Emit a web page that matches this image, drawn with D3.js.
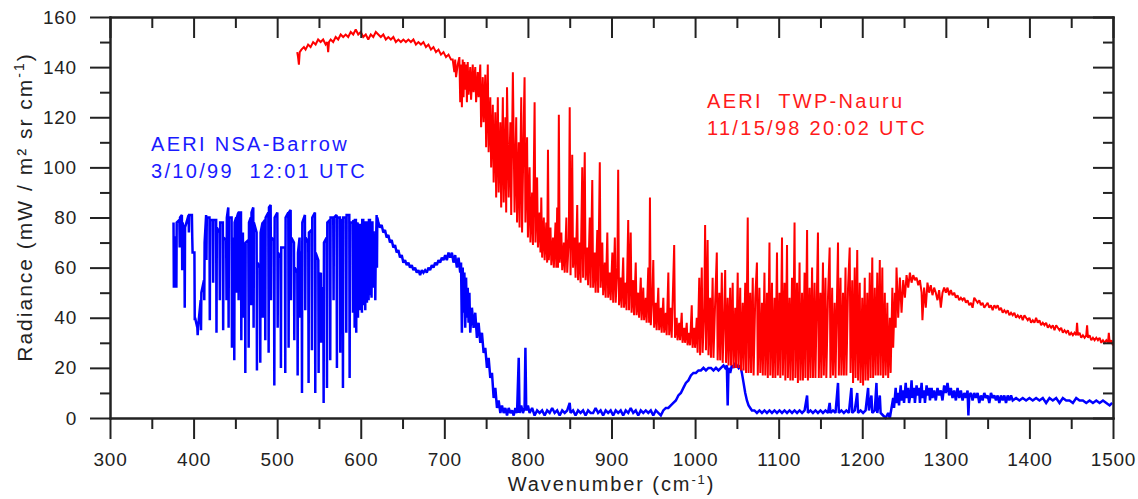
<!DOCTYPE html>
<html>
<head>
<meta charset="utf-8">
<script src="https://cdn.jsdelivr.net/npm/d3@7"></script>
<style>
  html, body { margin: 0; padding: 0; background: #fff; }
  svg { display: block; font-family: "Liberation Sans", Arial, sans-serif; }
  .tick text { font-size: 19px; fill: #222; letter-spacing: 0.8px; }
</style>
</head>
<body>
<svg id="chart" width="1138" height="499"></svg>
<script>
// tick values
var xMajor = [300, 400, 500, 600, 700, 800, 900, 1000, 1100, 1200, 1300, 1400, 1500];
var xMinor = [350, 450, 550, 650, 750, 850, 950, 1050, 1150, 1250, 1350, 1450];
var yMajor = [0, 20, 40, 60, 80, 100, 120, 140, 160];
var yMinor = [10, 30, 50, 70, 90, 110, 130, 150];

var barrowLabel = ["AERI NSA-Barrow", "3/10/99  12:01 UTC"];
var nauruLabel = ["AERI  TWP-Nauru", "11/15/98 20:02 UTC"];

// Nauru spectrum, [wavenumber, radiance]
var nauruPts = [
  [524,146],[525,144],[526,141],[527,146],[529,147],[532,148],[534,147],[537,149],[540,148],[543,150],
  [546,149],[549,151],[552,150],[555,151],[558,149],[560,150],[561,146],[562,150],[564,151],[567,150],
  [570,152],[573,151],[576,153],[579,152],[582,153],[585,152],[588,154],[591,153],[594,155],[597,153],
  [600,154],[603,152],[606,153],[609,151],[612,153],[615,152],[618,154],[621,153],[624,152],[627,153],
  [630,151],[633,152],[636,151],[639,152],[642,150],[645,151],[648,150],[651,151],[654,150],[657,151],
  [660,150],[663,151],[666,149],[669,150],[672,149],[675,150],[678,148],[681,149],[684,147],[687,148],
  [690,146],[693,147],[696,145],[699,146],[702,144],[705,145],[708,143],
  [710,143],[712,138],[713,143],[714,136],[716,141],[718,144],[719,126],[720,141],[721,124],[722,143],
  [723,128],[724,142],[725,131],[726,141],[727,126],[728,142],[729,129],[731,140],[732,127],[734,141],
  [735,130],[737,140],[738,126],[740,138],[741,128],[743,141],[744,116],[746,136],[747,118],[749,137],
  [750,108],[752,141],[753,106],[755,128],[756,100],[758,125],[759,94],[761,122],[762,88],[764,128],
  [765,90],[767,118],[768,84],[770,128],[771,86],[773,120],[774,82],[775,132],[777,88],[779,118],
  [780,81],[782,138],[784,82],[786,120],[787,78],[789,110],[790,76],[792,128],[793,74],[795,118],
  [796,136],[797,78],[799,112],[800,72],[802,100],[803,70],[805,90],[806,69],[808,126],[809,70],
  [811,96],[812,68],[814,82],[815,66],
  [816,88],[817,64],[819,80],[820,63],[822,78],[823,62],[824,107],[825,63],[827,76],[828,61],
  [830,72],[831,60],[833,78],[834,60],[835,84],[836,60],[837,121],[838,62],[840,74],[841,59],
  [843,70],[844,58],[846,80],[847,58],[849,72],[850,124],[851,57],[853,105],[854,60],[856,72],
  [857,56],[859,85],[860,55],[862,70],[863,54],[865,100],[866,56],[868,106],[869,55],[871,68],
  [872,53],[874,80],[875,52],[877,95],[878,52],[880,66],[881,50],[883,75],[884,50],[886,102],
  [887,52],[889,70],[890,49],[892,62],[893,48],[895,74],[896,48],[898,58],[899,47],[901,66],
  [902,46],[904,72],[905,46],[907,60],[908,99],[909,45],[911,56],[912,44],[914,64],[915,44],
  [917,54],[918,43],[920,79],[921,43],[923,74],[924,42],[926,55],[927,41],[929,62],[930,41],
  [932,50],[933,40],[935,56],[936,39],[938,52],[939,39],[941,48],[942,38],[944,60],[945,38],
  [946,88],[947,37],[949,50],[950,63],[951,36],[953,46],[954,35],[956,52],[957,35],[959,44],
  [960,34],[962,48],[963,34],[965,42],[966,33],[968,58],[969,33],[971,44],[972,32],[975,69],
  [976,32],[978,40],[979,31],[981,38],[982,31],[984,42],[985,30],[987,36],[988,30],[990,38],
  [991,29],[993,34],[994,29],[996,45],[997,28],[999,36],[1000,28],
  [1002,40],[1003,26],[1005,56],[1006,25],[1008,60],[1009,26],[1011,44],[1012,77],[1013,27],[1015,71],
  [1016,25],[1018,48],[1019,24],[1021,56],[1022,24],[1024,46],[1026,66],[1027,23],[1029,50],[1030,23],
  [1032,58],[1033,22],[1035,44],[1036,59],[1037,22],[1039,48],[1040,21],[1042,52],[1043,21],[1045,54],
  [1046,20],[1048,44],[1049,20],[1051,58],[1052,20],[1054,52],[1055,19],[1057,46],[1058,19],[1060,54],
  [1061,18],[1063,80],[1064,18],[1066,50],[1067,18],[1069,56],[1070,17],[1072,48],[1074,62],[1075,17],
  [1077,52],[1078,18],[1080,46],[1081,17],[1083,58],[1084,17],[1086,50],[1087,16],[1089,70],[1090,17],
  [1092,54],[1093,16],[1095,48],[1096,16],[1098,66],[1099,17],[1101,50],[1102,16],[1104,72],[1105,17],
  [1107,54],[1108,15],[1110,69],[1111,16],[1113,48],[1114,15],[1116,56],[1117,15],[1119,78],[1120,16],
  [1122,54],[1123,14],[1125,62],[1126,15],[1128,50],[1129,15],[1131,58],[1132,16],[1134,75],[1135,15],
  [1137,52],[1138,16],[1140,60],[1141,16],[1143,54],[1144,16],[1147,74],[1148,16],[1150,50],[1151,16],
  [1153,62],[1154,17],[1156,56],[1157,16],[1159,48],[1161,68],[1162,16],[1164,52],[1165,17],[1167,46],
  [1168,16],[1171,70],[1172,17],[1174,56],[1175,17],[1177,50],[1178,17],[1180,60],[1181,17],[1183,52],
  [1185,68],[1186,18],[1188,55],[1189,14],[1191,60],[1192,16],[1194,67],[1195,15],[1197,54],[1198,14],
  [1200,48],[1201,13],[1203,56],[1204,15],[1206,50],[1207,15],[1209,58],[1210,16],[1212,64],[1213,16],
  [1215,52],[1216,17],[1218,58],[1219,17],[1221,63],[1222,17],[1224,60],[1225,16],[1227,50],[1228,17],
  [1230,46],[1231,16],[1233,40],[1234,18],[1236,52],[1237,28],[1239,50],[1240,36],
  [1241,60],[1243,40],[1245,56],[1247,42],[1249,55],[1251,48],[1253,57],[1255,52],[1257,58],[1259,54],
  [1261,57],[1263,55],[1265,56],[1267,53],[1269,55],[1271,50],[1272,39],[1274,52],[1276,44],[1278,54],
  [1280,50],[1282,53],[1284,49],[1286,52],[1288,50],[1290,47],[1292,51],[1294,44],[1296,50],[1298,52],
  [1300,50],[1302,52],[1304,49],[1306,51],[1308,49],[1310,50],[1312,48],[1314,49],[1316,47],[1318,48],
  [1320,47],[1322,48],[1324,46],[1326,47],[1328,45],[1330,46],[1332,44],[1334,48],[1336,47],[1338,46],
  [1340,47],[1342,45],[1344,46],[1346,44],[1348,45],[1350,46],[1352,44],[1354,45],[1356,43],[1358,45],
  [1360,44],[1362,45],[1364,43],[1366,44],[1368,42],[1370,43],[1372,42],[1374,43],[1376,41],[1378,42],
  [1380,41],[1382,42],[1384,40],[1386,41],[1388,40],[1390,41],[1392,39],[1394,41],[1396,40],[1398,39],
  [1400,40],[1402,38],[1404,39],[1406,38],[1408,40],[1410,38],[1412,39],[1414,37],[1416,38],[1418,37],
  [1420,38],[1422,36],[1424,37],[1426,36],[1428,37],[1430,35],[1432,37],[1434,36],[1436,35],[1438,36],
  [1440,34],[1442,35],[1444,34],[1446,35],[1448,33],[1450,34],[1452,33],[1454,34],[1456,33],[1457,38],
  [1458,33],[1460,34],[1462,32],[1464,33],[1466,32],[1468,33],[1469,37],[1470,32],[1472,33],[1474,31],
  [1476,32],[1478,31],[1480,32],[1482,31],[1484,32],[1486,30],[1488,31],[1490,30],[1492,31],[1494,30],
  [1495,34],[1496,30],[1498,31],[1500,29]
];

// Barrow spectrum, [wavenumber, radiance]
var barrowPts = [
  [376,78],[376.4,52],[376.8,72],[379,72],[379.4,52],[379.8,78],[383,79],[383.4,68],[383.8,80],
  [386,81],[386.4,59],[386.8,78],[389,74],[389.4,44],[389.8,76],[394,81],[394.4,74],[394.8,81],
  [398,81],[398.4,72],[398.8,66],[401,66],[401.4,39],[401.8,40],[404.5,36],[404.9,33],[405.3,36],
  [408.5,47],[408.9,35],[409.3,50],[412.4,55],[412.8,47],[413.2,70],[415,81],[415.4,63],[415.8,80],
  [419,80],[419.4,39],[419.8,79],[423,79],[423.4,54],[423.8,79],[427,79],[427.4,34],[427.8,76],
  [431,74],[431.4,47],[431.8,78],[435,78],[435.4,35],[435.8,72],[439,71],[439.4,47],[439.8,80],
  [441.5,84],[441.9,36],[442.3,80],[445.5,80],[445.9,28],[446.3,72],[448.3,67],[448.7,23],[449.1,78],
  [451,80],[451.4,50],[451.8,80],[453.5,82],[453.9,47],[454.3,82],[456.7,82],[457.1,31],[457.5,72],
  [459,74],[459.4,40],[459.8,70],[461.5,66],[461.9,18],[462.3,70],[465.5,71],[465.9,28],[466.3,78],
  [468.5,80],[468.9,45],[469.3,82],[471.4,84],[471.8,36],[472.2,78],[475.4,74],[475.8,19],[476.2,62],
  [479.4,60],[479.8,22],[480.2,74],[482.5,78],[482.9,40],[483.3,78],[485.4,79],[485.8,31],[486.2,80],
  [489.4,82],[489.8,26],[490.2,84],[492.2,85],[492.6,47],[493,72],[496.2,71],[496.6,13],[497,80],
  [500.2,82],[500.6,36],[501,66],[504.1,64],[504.5,20],[504.9,68],[509.3,68],[509.7,18],[510.1,80],
  [513.3,82],[513.7,28],[514.1,82],[516.1,83],[516.5,47],[516.9,72],[520.1,70],[520.5,31],[520.9,60],
  [524.1,58],[524.5,17],[524.9,66],[526.8,72],[527.2,40],[527.6,66],[529.3,66],[529.7,10],[530.1,78],
  [533.2,81],[533.6,43],[534,72],[537.2,70],[537.6,14],[538,74],[541.2,75],[541.6,27],[542,80],
  [545.2,82],[545.6,10],[546,66],[549.2,63],[549.6,18],[550,56],[552.3,58],[552.7,30],[553.1,52],
  [555.2,51],[555.6,6],[556,70],[559.2,72],[559.6,12],[560,78],[563.1,79],[563.5,23],[563.9,80],
  [567.1,80],[567.5,47],[567.9,80],[571.1,81],[571.5,20],[571.9,80],[575.1,80],[575.5,26],[575.9,79],
  [578.3,79],[578.7,12],[579.1,80],[582.3,80],[582.7,34],[583.1,81],[586.3,81],[586.7,16],[587.1,78],
  [590.3,78],[590.7,42],[591.1,79],[592.3,78],[592.7,36],[593.1,79],[594.2,79],[594.6,34],[595,77],
  [596.3,78],[596.7,40],[597.1,76],[598.2,76],[598.6,43],[599,77],[601,77],[601.4,42],[601.8,79],
  [603,79],[603.4,45],[603.8,75],[605,75],[605.4,43],[605.8,78],[607,78],[607.4,46],[607.8,77],
  [609,77],[609.4,47],[609.8,79],[611,79],[611.4,49],[611.8,77],[612.5,77],[612.9,48],[613.3,78],
  [614,78],[614.4,52],[614.8,74],[615.5,74],[615.9,55],[616.3,70],[617,70],[617.4,47],[617.8,62],
  [619,81],[619.4,60],[619.8,80],[621,78],
  [623,76],[625,77],[627,74],[629,75],[631,72],[633,73],[635,70],[637,71],[639,68],[641,69],
  [643,66],[645,67],[647,64],[649,65],[651,62],[653,63],[655,61],[657,62],[659,60],[661,61],
  [663,59],[665,60],[667,58],[669,59],[671,57],[673,59],[675,58],[677,59],[679,58],[681,60],
  [683,59],[685,61],[687,60],[689,62],[691,61],[693,63],[695,62],[697,64],[699,63],[701,65],
  [703,63],[705,66],[707,64],[709,66],[711,62],[713,65],[715,60],[717,64],[719,58],[720,62],
  [721,34],[722,60],[723,42],[724,58],[725,36],[726,56],[727,40],[728,52],[729,38],[730,50],
  [731,34],[733,44],[735,36],[737,42],[739,32],[741,38],[743,30],[745,34],[747,26],[749,28],
  [751,20],[753,24],[755,16],[757,18],[759,8],[761,12],[763,4],[765,7],[767,2],[769,5],
  [771,2],[773,4],[775,1],[777,4],[779,2],[781,3],[783,1],[785,4],[787,2],[789,24],
  [790,2],[792,5],[794,2],[796,4],[797,28],[798,3],[800,5],[802,2],[805,4],[808,1],
  [811,3],[814,2],[817,3],[820,1],[823,3],[826,2],[829,4],[832,2],[835,3],[838,1],
  [841,3],[844,2],[847,3],[850,6],[851,2],[854,3],[857,1],[860,3],[863,2],[866,3],
  [869,1],[872,3],[875,2],[878,2],[881,4],[884,2],[887,3],[890,1],[893,3],[896,2],
  [899,3],[902,1],[905,3],[908,2],[911,3],[914,1],[917,3],[920,2],[923,4],[926,2],
  [929,3],[932,1],[935,3],[938,2],[941,3],[944,2],[947,3],[950,1],[953,3],[956,2],
  [959,1],[962,3],[965,4],[968,4],[971,5],[974,6],[977,7],[980,9],[983,10],[986,12],
  [989,14],[992,15],[995,17],[998,18],[1001,18],[1004,19],[1007,19],[1010,20],[1013,19],[1016,20],
  [1019,20],[1022,19],[1025,20],[1028,19],[1031,20],[1034,21],[1036,20],[1038,21],[1039,5],[1040,20],
  [1042,18],[1044,21],[1046,20],[1048,22],[1050,21],[1052,20],[1054,21],[1056,18],[1058,14],[1060,10],
  [1062,7],[1064,5],[1066,4],[1068,3],[1071,3],[1074,2],[1077,3],[1080,2],[1083,3],[1086,2],
  [1089,3],[1092,2],[1095,3],[1098,2],[1101,3],[1104,2],[1107,3],[1110,2],[1113,3],[1116,2],
  [1119,3],[1122,2],[1125,3],[1128,2],[1131,3],[1134,9],[1135,2],[1138,3],[1141,2],[1144,3],
  [1147,2],[1150,3],[1153,2],[1156,3],[1159,2],[1161,6],[1162,2],[1165,3],[1168,2],[1171,14],
  [1172,2],[1175,3],[1178,2],[1181,3],[1184,2],[1187,12],[1188,2],[1191,3],[1194,10],[1195,2],
  [1198,3],[1201,2],[1204,3],[1207,12],[1208,3],[1211,9],[1212,2],[1215,3],[1217,14],[1218,2],
  [1221,9],[1222,2],[1225,1],[1228,0],[1231,2],[1233,0],[1235,4],[1237,8],[1238,4],[1240,12],
  [1241,6],[1243,10],[1244,5],[1246,13],[1247,7],[1249,11],[1250,6],[1252,14],[1253,8],[1255,12],
  [1256,6],[1258,10],[1259,15],[1260,8],[1262,12],[1263,6],[1265,13],[1266,9],[1268,12],[1269,6],
  [1271,14],[1272,8],[1274,11],[1275,6],[1277,13],[1278,9],[1280,12],[1281,7],[1283,12],[1284,8],
  [1286,11],[1288,7],[1290,12],[1292,9],[1294,11],[1296,7],[1298,13],[1300,10],[1302,14],[1304,9],
  [1306,12],[1308,8],[1310,11],[1312,7],[1314,12],[1316,8],[1318,11],[1320,7],[1322,10],[1324,8],
  [1326,11],[1327,1],[1328,9],[1330,10],[1332,7],[1334,10],[1336,8],[1338,10],[1340,6],[1342,9],
  [1344,7],[1346,10],[1348,8],[1350,9],[1352,6],[1354,10],[1356,8],[1358,9],[1360,7],[1362,9],
  [1364,6],[1366,9],[1368,7],[1370,9],[1372,6],[1374,9],[1376,7],[1378,9],[1380,7],[1384,8],
  [1388,7],[1392,8],[1396,7],[1400,8],[1404,7],[1408,8],[1412,7],[1416,8],[1420,6],[1424,8],
  [1428,7],[1432,8],[1436,6],[1440,8],[1444,7],[1448,7],[1452,6],[1456,8],[1460,7],[1464,7],
  [1468,6],[1472,7],[1476,6],[1480,7],[1484,6],[1488,7],[1492,6],[1496,5],[1499,6]
];

var svg = d3.select('#chart');
var plotL = 110, plotR = 1113, plotT = 17, plotB = 418;

var x = d3.scaleLinear().domain([300, 1500]).range([plotL, plotR]);
var y = d3.scaleLinear().domain([0, 160]).range([plotB, plotT]);

var line = d3.line()
  .x(function(d) { return x(d[0]); })
  .y(function(d) { return y(d[1]); });

svg.append('path')
  .datum(barrowPts)
  .attr('d', line)
  .attr('fill', 'none')
  .attr('stroke', '#0000ff')
  .attr('stroke-width', 2.5)
  .attr('stroke-miterlimit', 2);

svg.append('path')
  .datum(nauruPts)
  .attr('d', line)
  .attr('fill', 'none')
  .attr('stroke', '#ff0000')
  .attr('stroke-width', 2)
  .attr('stroke-miterlimit', 2);

// axes: bottom/left ticks outward, top/right inward
function styleAxis(g) {
  g.selectAll('path, line').attr('stroke', '#222').attr('stroke-width', 2);
  g.select('.domain').attr('stroke-linecap', 'square');
}

svg.append('g')
  .attr('transform', 'translate(0,' + plotB + ')')
  .call(d3.axisBottom(x).tickValues(xMajor).tickSize(21).tickSizeOuter(0).tickPadding(14)
    .tickFormat(d3.format('d')))
  .call(styleAxis);
svg.append('g')
  .attr('transform', 'translate(0,' + plotB + ')')
  .call(d3.axisBottom(x).tickValues(xMinor).tickSize(11).tickSizeOuter(0).tickFormat(''))
  .call(styleAxis);

svg.append('g')
  .attr('transform', 'translate(0,' + plotT + ')')
  .call(d3.axisBottom(x).tickValues(xMajor).tickSize(21).tickSizeOuter(0).tickFormat(''))
  .call(styleAxis);
svg.append('g')
  .attr('transform', 'translate(0,' + plotT + ')')
  .call(d3.axisBottom(x).tickValues(xMinor).tickSize(11).tickSizeOuter(0).tickFormat(''))
  .call(styleAxis);

svg.append('g')
  .attr('transform', 'translate(' + plotL + ',0)')
  .call(d3.axisLeft(y).tickValues(yMajor).tickSize(20).tickSizeOuter(0).tickPadding(13))
  .call(styleAxis);
svg.append('g')
  .attr('transform', 'translate(' + plotL + ',0)')
  .call(d3.axisLeft(y).tickValues(yMinor).tickSize(10).tickSizeOuter(0).tickFormat(''))
  .call(styleAxis);

svg.append('g')
  .attr('transform', 'translate(' + plotR + ',0)')
  .call(d3.axisLeft(y).tickValues(yMajor).tickSize(20).tickSizeOuter(0).tickFormat(''))
  .call(styleAxis);
svg.append('g')
  .attr('transform', 'translate(' + plotR + ',0)')
  .call(d3.axisLeft(y).tickValues(yMinor).tickSize(10).tickSizeOuter(0).tickFormat(''))
  .call(styleAxis);

svg.selectAll('.tick text').attr('font-family', null).attr('font-size', null);

// axis titles
var xt = svg.append('text')
  .attr('x', (plotL + plotR) / 2)
  .attr('y', 491)
  .attr('text-anchor', 'middle')
  .style('font-size', '20px')
  .style('letter-spacing', '1.9px')
  .attr('fill', '#222');
xt.append('tspan').text('Wavenumber (cm');
xt.append('tspan').attr('dy', -7).style('font-size', '13px').text('-1');
xt.append('tspan').attr('dy', 7).text(')');

var yt = svg.append('text')
  .attr('transform', 'translate(32,207) rotate(-90)')
  .attr('text-anchor', 'middle')
  .style('font-size', '21px')
  .style('letter-spacing', '2px')
  .attr('fill', '#222');
yt.append('tspan').text('Radiance (mW / m² sr cm');
yt.append('tspan').attr('dy', -8).style('font-size', '14px').text('-1');
yt.append('tspan').attr('dy', 8).text(')');

// series labels
function label(lines, px, py, color) {
  lines.forEach(function(t, i) {
    svg.append('text')
      .attr('x', px)
      .attr('y', py + i * 26.5)
      .style('font-size', '20px')
      .style('letter-spacing', '2.3px')
      .style('white-space', 'pre')
      .attr('fill', color)
      .text(t);
  });
}
label(barrowLabel, 151, 151, '#1a1aff');
label(nauruLabel, 707, 108, '#ff1a1a');
</script>
</body>
</html>
